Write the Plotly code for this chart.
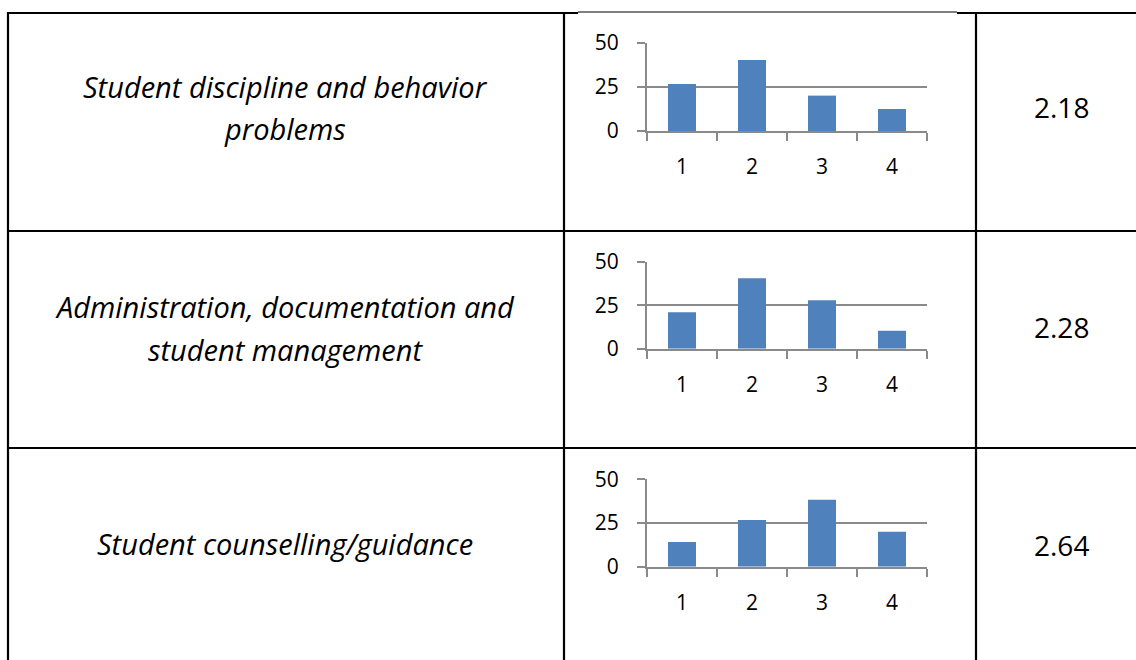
import plotly.graph_objects as go

# ---------------- data ----------------
categories = ["1", "2", "3", "4"]
row_labels = [
    ["Student discipline and behavior", "problems"],
    ["Administration, documentation and", "student management"],
    ["Student counselling/guidance"],
]
series_discipline = [26.7, 40.3, 20.1, 12.5]
series_admin = [20.9, 40.5, 27.8, 10.3]
series_counselling = [14.1, 26.7, 38.3, 20.0]
mean_scores = ["2.18", "2.28", "2.64"]
y_tick_values = [0, 25, 50]

all_series = [series_discipline, series_admin, series_counselling]

# ---------------- geometry (pixels) ----------------
W, H = 1136, 660
def px(x):
    return x / W
def py(y):
    return 1 - y / H

plot_x0, plot_x1 = 647, 927
zero_y = [131, 348.7, 566.7]
top_y = [43, 261.7, 479.3]
label_line_y = [[86, 128], [306, 349], [543]]
value_y = [107, 327, 545]
label_cx = 285
value_cx = 1061

BAR_COLOR = "#4F81BD"
GRID = "#8A8A8A"
FONT = "Open Sans"

fig = go.Figure()
for i, vals in enumerate(all_series):
    n = "" if i == 0 else str(i + 1)
    fig.add_trace(go.Bar(
        x=categories, y=vals, marker=dict(color=BAR_COLOR, line=dict(width=0)),
        xaxis="x" + n, yaxis="y" + n, showlegend=False, hoverinfo="x+y",
    ))
    fig.layout["xaxis" + n] = dict(
        domain=[px(plot_x0), px(plot_x1)], anchor="y" + n, type="category",
        tickson="boundaries", ticks="outside", ticklen=8, tickwidth=2, tickcolor=GRID,
        showline=True, linecolor=GRID, linewidth=2, showgrid=False,
        tickfont=dict(family=FONT, size=21, color="#000"), ticklabelstandoff=16,
        fixedrange=True, automargin=False,
    )
    fig.layout["yaxis" + n] = dict(
        domain=[py(zero_y[i]), py(top_y[i])], anchor="x" + n, range=[0, 50],
        tickvals=y_tick_values, ticks="outside", ticklen=8, tickwidth=2, tickcolor=GRID,
        showline=True, linecolor=GRID, linewidth=2, showgrid=True, gridcolor=GRID,
        gridwidth=2, zeroline=False,
        tickfont=dict(family=FONT, size=21, color="#000"), ticklabelstandoff=14,
        fixedrange=True, automargin=False,
    )

# ---------------- table lines ----------------
shapes = []
def hline(x0, x1, y, w):
    shapes.append(dict(type="line", xref="paper", yref="paper", x0=px(x0), x1=px(x1),
                       y0=py(y), y1=py(y), line=dict(color="#000", width=w)))
def vline(x, y0, y1, w):
    shapes.append(dict(type="line", xref="paper", yref="paper", x0=px(x), x1=px(x),
                       y0=py(y0), y1=py(y1), line=dict(color="#000", width=w)))

hline(7, 578, 13, 2.2)
hline(578, 957, 12, 1)
hline(957, 1136, 13, 2.2)
hline(7, 1136, 231, 2.2)
hline(7, 1136, 448, 2.2)
vline(8, 12, 660, 2.2)
vline(564, 12, 660, 2.2)
vline(976, 12, 660, 2.2)

# ---------------- text ----------------
annotations = []
for lines, ys in zip(row_labels, label_line_y):
    for t, y in zip(lines, ys):
        annotations.append(dict(text="<i>" + t + "</i>", xref="paper", yref="paper",
                                x=px(label_cx), y=py(y), xanchor="center", yanchor="middle",
                                showarrow=False, font=dict(family=FONT, size=29, color="#000")))
for t, y in zip(mean_scores, value_y):
    annotations.append(dict(text=t, xref="paper", yref="paper", x=px(value_cx), y=py(y),
                            xanchor="center", yanchor="middle", showarrow=False,
                            font=dict(family=FONT, size=28, color="#000")))

fig.update_layout(
    width=W, height=H, margin=dict(l=0, r=0, t=0, b=0, pad=0, autoexpand=False),
    paper_bgcolor="white", plot_bgcolor="white", showlegend=False,
    bargap=0.6, shapes=shapes, annotations=annotations,
)

fig.write_html("out.html", config={"displayModeBar": False})
